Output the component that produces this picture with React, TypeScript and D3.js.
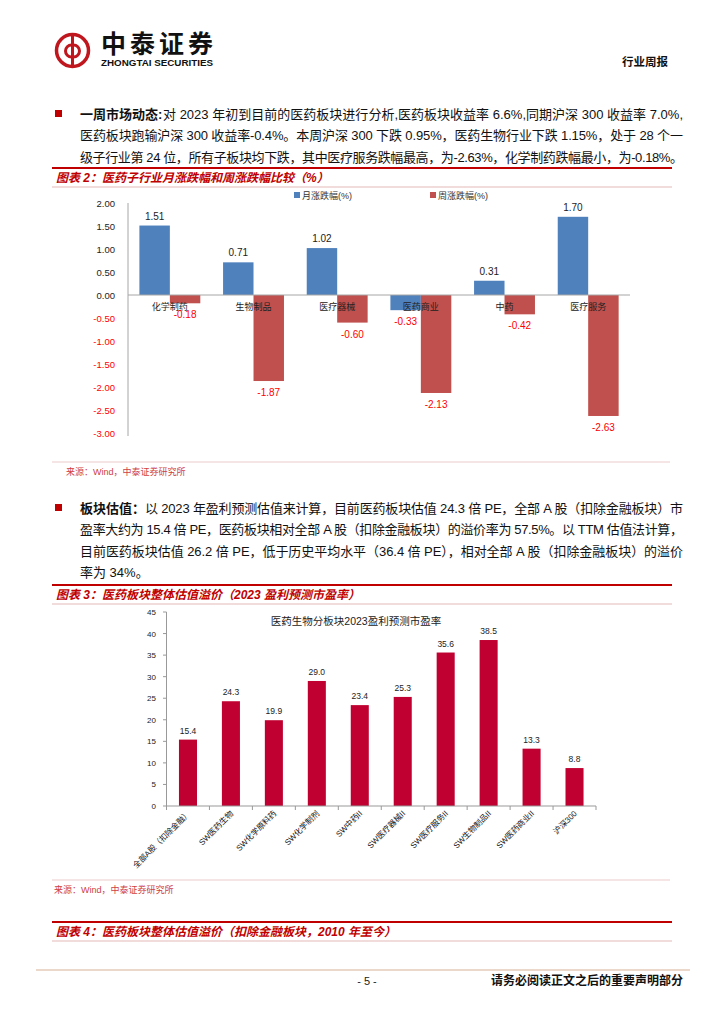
import React from 'react';
import * as d3 from 'd3';

// 图表2 数据
const subIndustries = ['化学制药', '生物制品', '医疗器械', '医药商业', '中药', '医疗服务'];
const monthlyChange = [1.51, 0.71, 1.02, -0.33, 0.31, 1.7];
const weeklyChange = [-0.18, -1.87, -0.6, -2.13, -0.42, -2.63];
const changeTicks = [2, 1.5, 1, 0.5, 0, -0.5, -1, -1.5, -2, -2.5, -3];
const changeSeries = ['月涨跌幅(%)', '周涨跌幅(%)'];

// 图表3 数据
const peCategories = [
  '全部A股（扣除金融）', 'SW医药生物', 'SW化学原料药', 'SW化学制剂', 'SW中药II',
  'SW医疗器械II', 'SW医疗服务II', 'SW生物制品II', 'SW医药商业II', '沪深300',
];
const peValues = [15.4, 24.3, 19.9, 29.0, 23.4, 25.3, 35.6, 38.5, 13.3, 8.8];
const peTicks = [0, 5, 10, 15, 20, 25, 30, 35, 40, 45];

// 正文
const para1Lead = '一周市场动态:';
const para1 = [
  '对 2023 年初到目前的医药板块进行分析,医药板块收益率 6.6%,同期沪深 300 收益率 7.0%,',
  '医药板块跑输沪深 300 收益率-0.4%。本周沪深 300 下跌 0.95%，医药生物行业下跌 1.15%，处于 28 个一',
  '级子行业第 24 位，所有子板块均下跌，其中医疗服务跌幅最高，为-2.63%，化学制药跌幅最小，为-0.18%。',
];
const para2Lead = '板块估值：';
const para2 = [
  '以 2023 年盈利预测估值来计算，目前医药板块估值 24.3 倍 PE，全部 A 股（扣除金融板块）市',
  '盈率大约为 15.4 倍 PE，医药板块相对全部 A 股（扣除金融板块）的溢价率为 57.5%。以 TTM 估值法计算，',
  '目前医药板块估值 26.2 倍 PE，低于历史平均水平（36.4 倍 PE），相对全部 A 股（扣除金融板块）的溢价',
  '率为 34%。',
];

const FONT = '"Liberation Sans", Arial, "Noto Sans CJK SC", sans-serif';
const RED = '#C00000';
const PINK = '#F2DCDB';
const BLUE = '#4F81BD';
const BRICK = '#C0504D';
const CRIMSON = '#C00030';

const TEXT_RIGHT = 683;

const Paragraph: React.FC<{ lead: string; lines: string[]; y0: number; leadEnd: number }> = ({ lead, lines, y0, leadEnd }) => (
  <g fontFamily={FONT} fontSize={13} fill="#111">
    <rect x={55} y={y0 - 9} width={7} height={7} fill={RED} />
    <text x={80} y={y0} fontWeight="bold">{lead}</text>
    {lines.map((l, i) => {
      const x = i === 0 ? leadEnd : 80;
      const full = i < lines.length - 1 || lines.length === 3;
      return (
        <text key={i} x={x} y={y0 + i * 21.3}
          {...(full ? { textLength: TEXT_RIGHT - x, lengthAdjust: 'spacing' } : {})}>
          {l}
        </text>
      );
    })}
  </g>
);

const Caption: React.FC<{ y: number; text: string }> = ({ y, text }) => (
  <g>
    <line x1={52} x2={672} y1={y} y2={y} stroke={RED} strokeWidth={2} />
    <text x={56} y={y + 14} fontFamily={FONT} fontSize={12} fontWeight="bold" fontStyle="italic" fill={RED}>{text}</text>
    <line x1={52} x2={672} y1={y + 19} y2={y + 19} stroke={PINK} strokeWidth={2} />
  </g>
);

const Source: React.FC<{ y: number; x: number }> = ({ y, x }) => (
  <g>
    <line x1={52} x2={670} y1={y} y2={y} stroke={PINK} strokeWidth={1.5} />
    <text x={x} y={y + 13} fontFamily={FONT} fontSize={9} fill="#D04040">来源：Wind，中泰证券研究所</text>
  </g>
);

const ChangeChart: React.FC = () => {
  const y = d3.scaleLinear().domain([-3, 2]).range([433, 203]);
  const x0 = d3.scaleBand<string>().domain(subIndustries).range([128, 630]);
  const x1 = d3.scaleBand<number>().domain([0, 1]).range([11.4, 72.3]);
  const series = [monthlyChange, weeklyChange];
  const colors = [BLUE, BRICK];
  const fmt = (v: number) => v.toFixed(2);
  return (
    <g fontFamily={FONT}>
      {/* legend */}
      {changeSeries.map((s, i) => (
        <g key={s} transform={`translate(${294 + i * 136},0)`}>
          <rect x={0} y={192} width={6} height={6} fill={colors[i]} />
          <text x={8} y={199} fontSize={9} fill="#333">{s}</text>
        </g>
      ))}
      {changeTicks.map((t) => (
        <text key={t} x={115} y={y(t) + 3.5} fontSize={9.5} textAnchor="end" fill={t < 0 ? '#FF0000' : '#222'}>{fmt(t)}</text>
      ))}
      {series.map((vals, si) => vals.map((v, i) => {
        const bx = x0(subIndustries[i])! + x1(si)!;
        const top = Math.min(y(v), y(0));
        return (
          <rect key={`${si}-${i}`} x={bx} y={top} width={x1.bandwidth()} height={Math.abs(y(v) - y(0))} fill={colors[si]} />
        );
      }))}
      <line x1={128} x2={128} y1={203} y2={436} stroke="#A6A6A6" />
      <line x1={128} x2={630} y1={y(0)} y2={y(0)} stroke="#A6A6A6" />
      {subIndustries.map((c) => (
        <text key={c} x={x0(c)! + x1(1)!} y={310} fontSize={9} textAnchor="middle" fill="#222">{c}</text>
      ))}
      {series.map((vals, si) => vals.map((v, i) => {
        const cx = x0(subIndustries[i])! + x1(si)! + x1.bandwidth() / 2;
        return (
          <text key={`l${si}-${i}`} x={cx} y={v >= 0 ? y(v) - 6 : y(v) + 15} fontSize={10} textAnchor="middle"
            fill={v < 0 ? '#FF0000' : '#222'}>{fmt(v)}</text>
        );
      }))}
    </g>
  );
};

const PeChart: React.FC = () => {
  const y = d3.scaleLinear().domain([0, 45]).range([806, 612]);
  const x = d3.scaleBand<string>().domain(peCategories).range([166.5, 596]).paddingInner(0.58).paddingOuter(0.29);
  const step = x.step();
  return (
    <g fontFamily={FONT}>
      <text x={356} y={625} fontSize={10.5} textAnchor="middle" fill="#222">医药生物分板块2023盈利预测市盈率</text>
      {peTicks.map((t) => (
        <g key={t}>
          <line x1={163} x2={166.5} y1={y(t)} y2={y(t)} stroke="#999" />
          <text x={156} y={y(t) + 3} fontSize={8} textAnchor="end" fill="#222">{t}</text>
        </g>
      ))}
      {peValues.map((v, i) => (
        <g key={i}>
          <rect x={x(peCategories[i])} y={y(v)} width={x.bandwidth()} height={y(0) - y(v)} fill={CRIMSON} />
          <text x={x(peCategories[i])! + x.bandwidth() / 2} y={y(v) - 6} fontSize={8.5} textAnchor="middle" fill="#222">{v.toFixed(1)}</text>
        </g>
      ))}
      <line x1={166.5} x2={166.5} y1={612} y2={806} stroke="#999" />
      <line x1={166.5} x2={596} y1={806} y2={806} stroke="#999" />
      {d3.range(peCategories.length + 1).map((i) => (
        <line key={i} x1={166.5 + i * step} x2={166.5 + i * step} y1={806} y2={810} stroke="#999" />
      ))}
      {peCategories.map((c) => {
        const cx = x(c)! + x.bandwidth() / 2 + 3;
        return (
          <text key={c} transform={`translate(${cx},814) rotate(-45)`} fontSize={8} textAnchor="end" fill="#111">{c}</text>
        );
      })}
    </g>
  );
};

const Logo: React.FC = () => (
  <g>
    <circle cx={72.5} cy={50.5} r={16} fill="none" stroke="#C0161E" strokeWidth={3.5} />
    <line x1={72.5} x2={72.5} y1={34} y2={67} stroke="#C0161E" strokeWidth={3} />
    <path d="M72.5,45 A6,6 0 1 0 72.5,57" fill="none" stroke="#C0161E" strokeWidth={3} transform="translate(-1,0)" />
    <path d="M72.5,45 A6,6 0 1 1 72.5,57" fill="none" stroke="#C0161E" strokeWidth={3} transform="translate(1,0)" />
    <text x={101} y={53} fontFamily={FONT} fontSize={25} fontWeight="bold" fill="#111" textLength={112}>中泰证券</text>
    <text x={101} y={66} fontFamily={FONT} fontSize={8.5} fontWeight="bold" fill="#111" textLength={112} lengthAdjust="spacingAndGlyphs">ZHONGTAI SECURITIES</text>
  </g>
);

const App: React.FC = () => (
  <>
    <style>{'body{margin:0}'}</style>
    <svg width={724} height={1024} style={{ display: 'block', background: '#fff' }}>
      <Logo />
      <text x={668} y={66} fontFamily={FONT} fontSize={11.5} fontWeight="bold" textAnchor="end" fill="#111">行业周报</text>

      <Paragraph lead={para1Lead} lines={para1} y0={119} leadEnd={163} />
      <Caption y={168} text="图表 2：医药子行业月涨跌幅和周涨跌幅比较（%）" />
      <ChangeChart />
      <Source y={462} x={66} />

      <Paragraph lead={para2Lead} lines={para2} y0={513} leadEnd={145} />
      <Caption y={585} text="图表 3：医药板块整体估值溢价（2023 盈利预测市盈率）" />
      <PeChart />
      <Source y={880} x={54} />

      <Caption y={922} text="图表 4：医药板块整体估值溢价（扣除金融板块，2010 年至今）" />

      <line x1={36} x2={690} y1={970} y2={970} stroke="#E6CBB8" strokeWidth={1.5} />
      <text x={367} y={985} fontFamily={FONT} fontSize={11} textAnchor="middle" fill="#222">- 5 -</text>
      <text x={683} y={985} fontFamily={FONT} fontSize={12} fontWeight="bold" textAnchor="end" fill="#111">请务必阅读正文之后的重要声明部分</text>
    </svg>
  </>
);

export default App;
